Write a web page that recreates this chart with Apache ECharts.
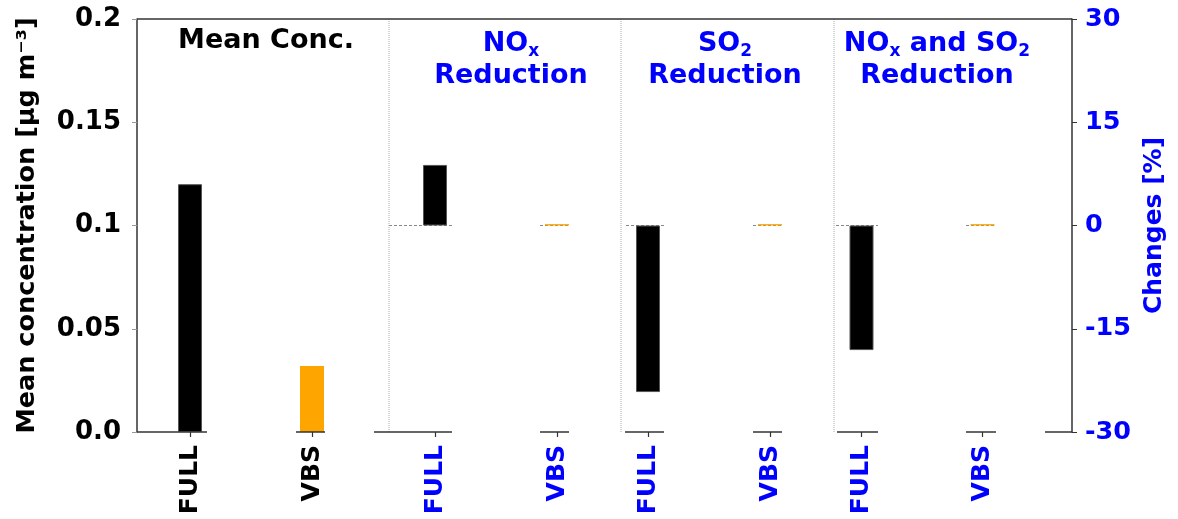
<!DOCTYPE html>
<html>
<head>
<meta charset="utf-8">
<script src="https://cdn.jsdelivr.net/npm/echarts@6/dist/echarts.min.js"></script>
<style>
  html, body { margin: 0; padding: 0; background: #fff; }
  #main { width: 1178px; height: 519px; }
</style>
</head>
<body>
<div id="main"></div>
<script>
// data
const categories = ['FULL', 'VBS'];
const meanConc = [0.12, 0.032];        // µg m-3
const noxChange = [8.8, 0.2];          // %
const so2Change = [-24.2, 0.2];        // %
const bothChange = [-18.1, 0.2];       // %
const concTicks = [0, 0.05, 0.1, 0.15, 0.2];
const changeTicks = [-30, -15, 0, 15, 30];
const barColors = ['#000000', '#FFA500'];

const FONT = 'DejaVu Sans';
const BLUE = '#0000FF';
const SPINE = '#333';

// 4 panels side by side, all share the same top / height
const gridTop = 19, gridH = 413;
const grids = [
  { left: 129, width: 244 },
  { left: 374, width: 244 },
  { left: 587, width: 244 },
  { left: 801, width: 242 }
].map(g => ({ left: g.left, width: g.width, top: gridTop, height: gridH, containLabel: false }));

function xAxis(i, color) {
  return {
    type: 'category', gridIndex: i, data: categories,
    axisLine: { show: false, onZero: false },
    axisTick: { show: true, alignWithLabel: true, length: 5, lineStyle: { color: SPINE, width: 1.2 } },
    axisLabel: { rotate: 90, margin: 13, color: color, fontFamily: FONT, fontWeight: 'bold', fontSize: 25 },
    splitLine: { show: false }
  };
}

function changeAxis(i, visible) {
  return {
    type: 'value', gridIndex: i, min: changeTicks[0], max: changeTicks[changeTicks.length - 1], interval: 15,
    show: visible, position: 'right', offset: 29,
    name: visible ? 'Changes [%]' : '', nameLocation: 'middle', nameGap: 70, nameRotate: 90,
    nameTextStyle: { color: BLUE, fontFamily: FONT, fontWeight: 'bold', fontSize: 25 },
    axisLine: { show: true, lineStyle: { color: SPINE, width: 1.5 } },
    axisTick: { show: true, inside: false, length: 5, lineStyle: { color: SPINE } },
    axisLabel: { color: BLUE, fontFamily: FONT, fontWeight: 'bold', fontSize: 25.5, margin: 13 },
    splitLine: { show: false }
  };
}

function bars(vals, i, yIdx) {
  return {
    type: 'bar', xAxisIndex: i, yAxisIndex: yIdx, barWidth: 24, z: 3,
    data: vals.map((v, k) => ({
      value: v,
      itemStyle: { color: barColors[k], borderColor: '#555', borderWidth: k === 0 ? 1 : 0 }
    }))
  };
}

function title(text, x, top, rich) {
  return {
    text: text, left: x, top: top, textAlign: 'center', padding: 0,
    textStyle: { rich: rich, fontFamily: FONT, fontWeight: 'bold', fontSize: 27 }
  };
}

const blueRich = {
  b: { color: BLUE, fontFamily: FONT, fontWeight: 'bold', fontSize: 27, lineHeight: 32 },
  s: { color: BLUE, fontFamily: FONT, fontWeight: 'bold', fontSize: 17, lineHeight: 17, verticalAlign: 'bottom' }
};

const chart = echarts.init(document.getElementById('main'));

const option = {
  backgroundColor: '#fff',
  animation: false,
  title: [
    title('{m|Mean Conc.}', 266, 26, { m: { color: '#000', fontFamily: FONT, fontWeight: 'bold', fontSize: 27, lineHeight: 30 } }),
    title('{b|NO}{s|x}\n{b|Reduction}', 511, 28, blueRich),
    title('{b|SO}{s|2}\n{b|Reduction}', 725, 28, blueRich),
    title('{b|NO}{s|x}{b| and SO}{s|2}\n{b|Reduction}', 937, 28, blueRich)
  ],
  grid: grids,
  xAxis: [xAxis(0, '#000'), xAxis(1, BLUE), xAxis(2, BLUE), xAxis(3, BLUE)],
  yAxis: [
    {
      type: 'value', gridIndex: 0, min: concTicks[0], max: concTicks[concTicks.length - 1], interval: 0.05,
      position: 'left', offset: -8,
      name: 'Mean concentration [µg m\u207B\u00B3]', nameLocation: 'middle', nameGap: 97, nameRotate: 90,
      nameTextStyle: { color: '#000', fontFamily: FONT, fontWeight: 'bold', fontSize: 25.5 },
      axisLine: { show: true, lineStyle: { color: SPINE, width: 1.5 } },
      axisTick: { show: true, length: 5, lineStyle: { color: '#999' } },
      axisLabel: {
        color: '#000', fontFamily: FONT, fontWeight: 'bold', fontSize: 26, margin: 16,
        formatter: v => v === 0 ? '0.0' : String(+v.toFixed(2))
      },
      splitLine: { show: false }
    },
    changeAxis(1, false),
    changeAxis(2, false),
    changeAxis(3, true)
  ],
  series: [
    bars(meanConc, 0, 0),
    bars(noxChange, 1, 1),
    bars(so2Change, 2, 2),
    bars(bothChange, 3, 3)
  ]
};

chart.setOption(option);

// spines, panel separators and zero lines (matplotlib-like overlapping axes)
const y0 = chart.convertToPixel({ yAxisIndex: 1 }, 0);
const yBottom = gridTop + gridH;
const bottomSegs = [[137, 207], [296, 325], [374, 452], [540, 569], [625, 664], [753, 782], [837, 878], [966, 996], [1045, 1072]];
const zeroSegs = [[389, 452], [540, 569], [626, 664], [753, 782], [836, 878], [966, 996]];
const separators = [389, 621, 834];

const graphics = [];
graphics.push({ type: 'line', z: 10, shape: { x1: 137, y1: gridTop, x2: 1072, y2: gridTop }, style: { stroke: SPINE, lineWidth: 1.5 } });
bottomSegs.forEach(s => graphics.push({ type: 'line', z: 10, shape: { x1: s[0], y1: yBottom, x2: s[1], y2: yBottom }, style: { stroke: SPINE, lineWidth: 1.5 } }));
zeroSegs.forEach(s => graphics.push({ type: 'line', z: 1, shape: { x1: s[0], y1: y0, x2: s[1], y2: y0 }, style: { stroke: '#888', lineWidth: 1, lineDash: [3, 2] } }));
separators.forEach(x => graphics.push({ type: 'line', z: 1, shape: { x1: x, y1: gridTop, x2: x, y2: yBottom }, style: { stroke: '#aaa', lineWidth: 1, lineDash: [1, 1] } }));

chart.setOption({ graphic: graphics });
</script>
</body>
</html>
